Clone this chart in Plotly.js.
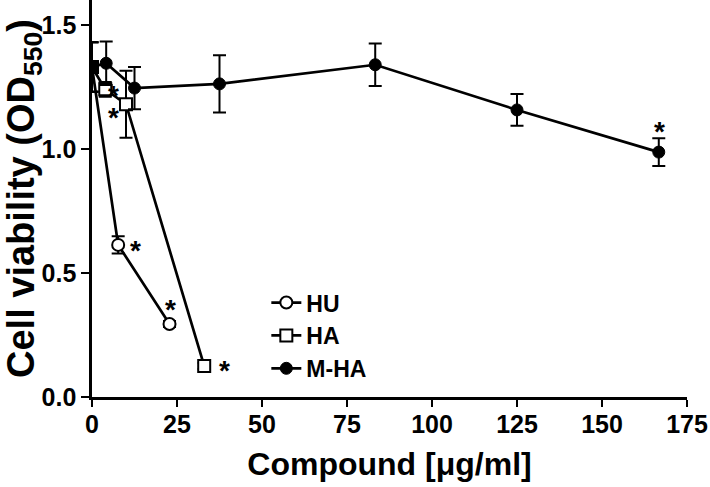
<!DOCTYPE html>
<html>
<head>
<meta charset="utf-8">
<script src="https://cdn.plot.ly/plotly-3.0.1.min.js"></script>
<style>html,body{margin:0;padding:0;background:#fff;}#chart{width:710px;height:487px;}</style>
</head>
<body>
<div id="chart"></div>
<script>
// Data
const xHU = [0, 7.7, 22.8];
const yHU = [1.33, 0.613, 0.294];
const eHU = [0.10, 0.035, 0.012];

const xHA = [0, 3.9, 10.0, 33.0];
const yHA = [1.33, 1.24, 1.18, 0.125];
const eHA = [0.10, 0.03, 0.135, 0.012];

const xMHA = [0, 4.17, 12.5, 37.5, 83.3, 125, 166.7];
const yMHA = [1.33, 1.345, 1.245, 1.262, 1.339, 1.157, 0.987];
const eMHA = [0.10, 0.088, 0.085, 0.115, 0.086, 0.064, 0.056];

const xControl = [0];
const yControl = [1.33];

// significance markers (asterisks)
const starX = [6.35, 6.35, 12.7, 23.0, 38.9, 166.9];
const starY = [1.238, 1.150, 0.613, 0.375, 0.129, 1.093];

const xTicks = [0, 25, 50, 75, 100, 125, 150, 175];
const yTicks = [0, 0.5, 1.0, 1.5];

const FONT = 'Liberation Sans, Arial, sans-serif';
const errStyle = (arr) => ({type: 'data', array: arr, visible: true, color: '#000', thickness: 2, width: 6.5});

const traces = [
  {x: xHU, y: yHU, name: 'HU', mode: 'lines+markers', type: 'scatter',
   line: {color: '#000', width: 2.7},
   marker: {symbol: 'circle', size: 12, color: '#fff', line: {color: '#000', width: 2}},
   error_y: errStyle(eHU), legendrank: 1},
  {x: xHA, y: yHA, name: 'HA', mode: 'lines+markers', type: 'scatter',
   line: {color: '#000', width: 2.7},
   marker: {symbol: 'square', size: 12, color: '#fff', line: {color: '#000', width: 2}},
   error_y: errStyle(eHA), legendrank: 2},
  {x: xMHA, y: yMHA, name: 'M-HA', mode: 'lines+markers', type: 'scatter',
   line: {color: '#000', width: 2.7},
   marker: {symbol: 'circle', size: 12, color: '#000', line: {color: '#000', width: 1}},
   error_y: errStyle(eMHA), legendrank: 3},
  {x: xControl, y: yControl, name: 'control', mode: 'markers', type: 'scatter',
   marker: {symbol: 'square', size: 13, color: '#000'}, showlegend: false}
];

const annotations = starX.map((x, i) => ({
  x: x, y: starY[i], xref: 'x', yref: 'y', text: '*', showarrow: false,
  font: {family: FONT, size: 28, color: '#000', weight: 'bold'},
  xanchor: 'center', yanchor: 'middle', yshift: -6
}));

const layout = {
  width: 710, height: 487,
  margin: {l: 92, r: 23, t: 0, b: 90},
  paper_bgcolor: '#fff', plot_bgcolor: '#fff',
  font: {family: FONT, color: '#000', weight: 'bold'},
  showlegend: true,
  legend: {x: 0.293, y: 0.292, xanchor: 'left', yanchor: 'top',
           font: {family: FONT, size: 23, color: '#000', weight: 'bold'},
           bgcolor: 'rgba(0,0,0,0)', tracegroupgap: 0, itemwidth: 30, traceorder: 'normal'},
  xaxis: {
    range: [0, 175], tickvals: xTicks, ticktext: xTicks.map(String),
    showgrid: false, zeroline: false, showline: true, linecolor: '#000', linewidth: 2.7,
    ticks: 'outside', ticklen: 7, tickwidth: 2.5, tickcolor: '#000', ticklabelstandoff: -4,
    tickfont: {family: FONT, size: 25, color: '#000', weight: 'bold'},
    title: {text: 'Compound [μg/ml]', font: {family: FONT, size: 32, color: '#000', weight: 'bold'}, standoff: 16}
  },
  yaxis: {
    range: [0, 1.6], tickvals: yTicks, ticktext: yTicks.map(v => v.toFixed(1)),
    showgrid: false, zeroline: false, showline: true, linecolor: '#000', linewidth: 2.7,
    ticks: 'outside', ticklen: 8, tickwidth: 2.5, tickcolor: '#000',
    tickfont: {family: FONT, size: 25, color: '#000', weight: 'bold'},
    title: {text: 'Cell viability (OD<sub>550</sub>)', font: {family: FONT, size: 38, color: '#000', weight: 'bold'}, standoff: 3}
  },
  annotations: annotations
};

Plotly.newPlot('chart', traces, layout, {displayModeBar: false, staticPlot: true});
</script>
</body>
</html>
